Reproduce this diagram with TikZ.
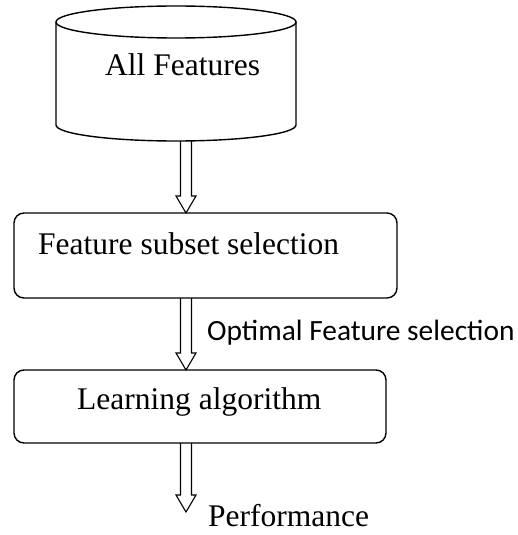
\documentclass[tikz,border=0pt]{standalone}
\usepackage{fontspec}
\setmainfont{Liberation Serif}
\newfontfamily\labelfont{Carlito}
\usetikzlibrary{calc}

% hollow double-shafted arrow pointing down: #1 = start (shaft centre), #2 = tip
\newcommand\hollowdown[2]{%
  \draw[hollowarrow] let \p1=(#1), \p2=(#2) in
    (\x1-5.5pt,\y1) -- (\x1-5.5pt,\y2+17pt) -- (\x1-10pt,\y2+17pt) -- (\x2,\y2)
    -- (\x1+10pt,\y2+17pt) -- (\x1+5.5pt,\y2+17pt) -- (\x1+5.5pt,\y1);}

\begin{document}
\begin{tikzpicture}[x=1pt,y=1pt,
  outline/.style={line width=1.4pt},
  procbox/.style={draw, line width=1.4pt, rounded corners=10pt, outer sep=0pt,
                  inner sep=0pt, anchor=north west},
  bigtxt/.style={font=\fontsize{31.5}{36}\selectfont, inner sep=0pt, anchor=base west},
  smalltxt/.style={font=\labelfont\fontsize{29.4}{34}\selectfont, inner sep=0pt, anchor=base west},
  hollowarrow/.style={line width=1.1pt, line join=miter}
]
\useasboundingbox (0,0) rectangle (517,-535);

% data store drawn as a cylinder
\draw[outline] (56,-22) -- (56,-125)
  arc[start angle=180, end angle=360, x radius=120pt, y radius=16pt] -- (296,-22);
\draw[outline] (176,-22) ellipse[x radius=120pt, y radius=16pt];
\node[bigtxt] (feat) at (105,-75) {All Features};
\coordinate (featbot) at (186,-141);

% processing steps
\node[procbox, minimum width=383pt, minimum height=85pt] (sel) at (14,-213) {};
\node[bigtxt] (seltext) at (38,-254) {Feature subset selection};

\node[procbox, minimum width=372pt, minimum height=73pt] (learn) at (14,-370) {};
\node[bigtxt] (learntext) at (77,-409) {Learning algorithm};

\coordinate (perf) at (186,-512);

% connectors
\hollowdown{featbot}{featbot |- sel.north}
\hollowdown{featbot |- sel.south}{featbot |- learn.north}
\hollowdown{featbot |- learn.south}{perf}

% labels
\node[smalltxt] (opt) at (207,-340) {Optimal Feature selection};
\node[bigtxt] (perftext) at (208,-526) {Performance};
\end{tikzpicture}
\end{document}
